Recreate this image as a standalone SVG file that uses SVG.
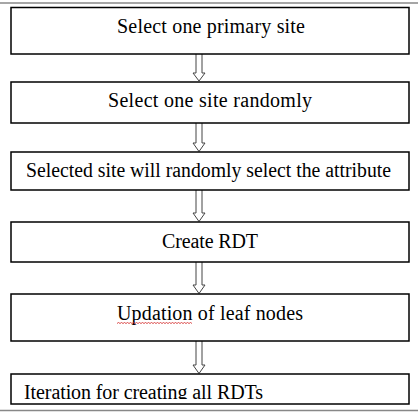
<svg xmlns="http://www.w3.org/2000/svg" width="418" height="414" viewBox="0 0 418 414">
<style>
.box{fill:#fff;stroke:#000;stroke-width:1.5}
.lbl{font-family:"Liberation Serif","Times New Roman",serif;font-size:20px;fill:#000}
.arr{fill:#fff;stroke:#444;stroke-width:1}
.frame{stroke:#888;stroke-width:1.5}
</style>
<defs>
<clipPath id="c6"><rect x="11" y="374" width="398" height="25"/></clipPath>
</defs>
<rect width="418" height="414" fill="#fff"/>
<line class="frame" x1="0" y1="3" x2="418" y2="3"/>
<line class="frame" x1="0" y1="410.5" x2="418" y2="410.5"/>
<g id="connectors">
<path class="arr" d="M196,54 V73 H193 L199,81 L205,73 H202 V54"/>
<path class="arr" d="M196,123 V143 H193 L199,151.5 L205,143 H202 V123"/>
<path class="arr" d="M196,190 V213 H193 L199,221.5 L205,213 H202 V190"/>
<path class="arr" d="M196,262 V285 H193 L199,293.5 L205,285 H202 V262"/>
<path class="arr" d="M196,341 V365 H193 L199,373.5 L205,365 H202 V341"/>
</g>
<g id="n1">
<rect class="box" x="11" y="7.5" width="398" height="46.5"/>
<text class="lbl" x="117" y="33" textLength="188" lengthAdjust="spacing">Select one primary site</text>
</g>
<g id="n2">
<rect class="box" x="11" y="82" width="398" height="41"/>
<text class="lbl" x="108" y="107" textLength="204" lengthAdjust="spacing">Select one site randomly</text>
</g>
<g id="n3">
<rect class="box" x="11" y="152" width="398" height="38"/>
<text class="lbl" x="26" y="176.5" textLength="365" lengthAdjust="spacingAndGlyphs">Selected site will randomly select the attribute</text>
</g>
<g id="n4">
<rect class="box" x="11" y="222" width="398" height="40"/>
<text class="lbl" x="162" y="248" textLength="96" lengthAdjust="spacing">Create RDT</text>
</g>
<g id="n5">
<rect class="box" x="11" y="294" width="398" height="47"/>
<text class="lbl" x="117" y="320" textLength="186" lengthAdjust="spacing">Updation of leaf nodes</text>
<path d="M117,323.5 l1.5,-1 l1.5,1 l1.5,-1 l1.5,1 l1.5,-1 l1.5,1 l1.5,-1 l1.5,1 l1.5,-1 l1.5,1 l1.5,-1 l1.5,1 l1.5,-1 l1.5,1 l1.5,-1 l1.5,1 l1.5,-1 l1.5,1 l1.5,-1 l1.5,1 l1.5,-1 l1.5,1 l1.5,-1 l1.5,1 l1.5,-1 l1.5,1 l1.5,-1 l1.5,1 l1.5,-1 l1.5,1 l1.5,-1 l1.5,1 l1.5,-1 l1.5,1 l1.5,-1 l1.5,1 l1.5,-1 l1.5,1 l1.5,-1 l1.5,1 l1.5,-1 l1.5,1 l1.5,-1 l1.5,1 l1.5,-1 l1.5,1 l1.5,-1 l1.5,1 l1.5,-1 l1.5,1" fill="none" stroke="#d02020" stroke-width="0.8"/>
</g>
<g id="n6">
<rect class="box" x="11" y="374" width="398" height="30"/>
<text class="lbl" x="24" y="399" textLength="239" lengthAdjust="spacing" clip-path="url(#c6)">Iteration for creating all RDTs</text>
</g>
</svg>
